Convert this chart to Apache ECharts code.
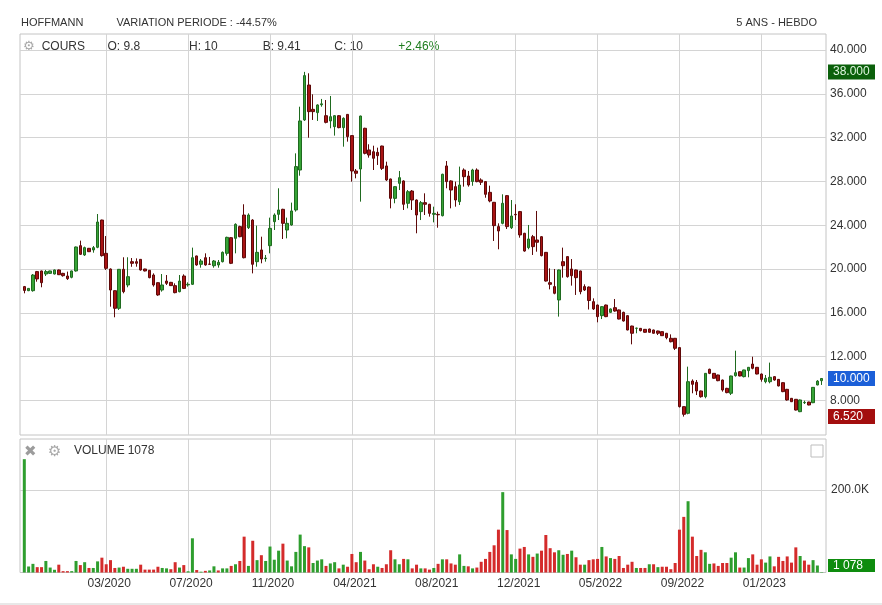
<!DOCTYPE html>
<html><head><meta charset="utf-8">
<script src="https://cdn.jsdelivr.net/npm/echarts@6/dist/echarts.min.js"></script>
<style>html,body{margin:0;padding:0;background:#fff}#c{width:882px;height:605px}</style>
</head><body><div id="c"></div>
<script>
// Weekly candles (O/H/L/C) and volumes
const opens = [
18.39,18.02,18.02,19.76,19.82,19.54,19.60,19.54,19.91,19.60,
19.36,19.24,19.82,22.13,21.28,21.89,21.74,21.98,24.47,21.43,
20.00,18.02,16.41,19.97,18.54,20.67,20.67,20.88,20.00,19.88,
19.45,18.75,18.08,18.90,18.78,18.48,17.93,19.36,18.55,18.60,
21.19,20.43,21.03,20.45,20.30,20.37,20.67,21.43,22.86,22.80,
23.87,24.93,23.77,24.47,20.67,21.74,20.95,22.13,24.32,24.99,
25.45,23.56,24.02,25.39,29.04,33.61,36.80,34.58,34.28,35.00,
34.00,33.52,33.00,34.00,32.91,34.12,32.18,28.95,29.13,32.85,
30.87,30.71,30.65,31.23,29.41,28.22,26.45,27.82,28.04,26.00,
27.12,26.30,25.24,26.06,25.91,24.99,24.99,24.87,29.41,28.04,
27.52,26.15,29.04,28.49,28.00,29.04,28.13,27.98,27.00,26.09,
23.87,24.17,26.70,23.77,24.99,25.24,23.26,21.95,22.95,22.65,
22.95,21.52,18.75,18.39,17.17,20.67,21.13,20.00,19.91,19.82,
18.39,18.35,17.02,16.71,15.74,16.71,16.04,16.47,16.26,16.04,
15.74,14.79,14.58,14.58,14.49,14.52,14.43,14.34,14.28,14.13,
13.67,13.67,12.82,7.43,6.82,9.77,9.65,8.86,8.34,10.84,
10.47,10.32,9.86,9.10,8.65,10.26,10.62,10.17,10.72,11.32,
11.02,10.41,9.71,9.71,10.17,9.92,9.62,9.01,8.19,8.10,
6.97,7.79,7.85,7.79,9.41,9.8];
const highs = [
18.45,18.25,19.54,19.82,19.85,19.91,19.85,19.95,19.95,19.65,
19.76,19.85,22.05,22.59,22.04,21.92,22.10,25.02,24.50,23.01,
20.05,18.05,20.00,21.07,21.07,21.00,20.97,20.90,20.02,19.90,
19.60,18.78,19.54,19.45,18.82,18.69,19.45,19.51,18.78,21.95,
21.22,20.91,21.43,21.10,20.82,20.82,21.60,22.95,22.90,24.17,
23.95,25.91,25.08,24.55,23.96,22.95,21.28,24.69,25.08,27.37,
25.50,24.69,26.06,30.56,34.82,38.00,37.87,35.95,35.04,35.53,
35.43,35.80,34.06,34.06,33.85,34.15,32.20,29.13,34.00,32.90,
31.39,31.26,31.08,31.26,29.80,28.25,27.55,28.95,28.10,27.21,
27.21,26.35,26.21,26.91,25.95,25.69,25.24,28.70,29.86,28.10,
27.98,29.35,29.19,28.95,29.15,29.19,28.28,28.00,27.61,26.12,
24.17,26.82,26.75,26.30,25.91,25.30,23.30,24.02,23.11,25.30,
23.00,21.55,20.06,20.00,19.95,21.95,21.15,20.91,19.95,19.85,
18.60,18.40,17.32,16.75,16.60,16.75,16.40,17.26,16.30,16.10,
15.78,14.82,14.64,14.60,14.52,14.55,14.46,14.37,14.30,14.16,
14.03,13.70,12.85,7.45,11.08,9.92,9.86,8.90,10.50,10.90,
10.50,10.35,9.90,9.15,10.26,12.54,10.65,10.80,11.05,11.99,
11.05,10.45,10.32,11.45,10.20,9.95,9.65,9.05,8.22,8.12,
8.08,7.98,7.88,9.22,9.85,10];
const lows = [
17.78,17.98,17.93,18.84,18.33,19.36,19.55,19.50,19.45,19.30,
19.00,19.15,19.76,21.28,21.19,21.55,21.49,21.90,21.13,19.91,
16.56,15.59,16.26,17.78,18.33,20.20,20.21,19.85,19.78,19.15,
18.39,17.55,17.93,18.54,18.45,17.78,17.87,18.17,18.39,18.54,
20.30,20.12,20.30,20.37,20.12,20.12,20.60,21.22,20.45,21.43,
22.90,20.97,23.65,19.60,20.21,20.52,20.67,21.43,23.56,24.47,
22.74,22.80,23.96,25.24,28.52,33.52,31.99,33.61,33.52,34.82,
33.30,32.85,32.18,32.85,31.17,31.63,27.98,28.28,26.15,30.47,
30.17,29.04,29.50,29.04,28.04,25.54,26.00,27.21,25.39,25.54,
25.39,23.26,24.47,24.93,24.78,24.26,23.77,24.80,27.37,25.54,
25.69,25.84,27.52,27.52,27.60,27.92,27.67,26.51,26.09,22.56,
21.80,24.08,23.65,23.65,24.47,22.86,21.58,21.80,21.28,21.58,
21.15,18.85,18.14,17.69,15.65,19.21,19.21,18.48,17.63,17.69,
17.99,16.30,16.26,15.13,15.43,15.60,16.00,16.10,15.40,15.20,
14.40,13.12,14.13,14.30,14.18,14.18,14.10,13.97,13.88,13.58,
13.30,12.60,7.35,6.52,6.73,8.65,8.49,8.25,8.19,10.40,
9.98,9.75,8.80,8.65,8.49,10.17,10.20,10.10,10.11,10.84,
10.38,9.71,9.56,9.56,9.80,9.28,8.75,7.98,7.85,7.08,
6.93,7.67,7.55,7.75,9.38,9.41];
const closes = [
18.04,18.23,19.45,19.09,18.75,19.76,19.82,19.91,19.48,19.39,
19.12,19.82,22.01,21.34,21.95,21.58,21.95,24.29,21.22,20.06,
18.08,16.41,19.97,17.93,19.30,20.52,20.52,19.91,19.82,19.21,
18.54,17.63,18.54,18.69,18.48,17.84,18.90,18.23,18.60,21.03,
20.37,20.73,20.37,20.43,20.73,20.61,21.52,22.89,20.52,24.08,
22.95,21.03,24.93,20.43,21.52,20.91,21.00,23.71,24.93,25.39,
24.17,24.17,25.30,29.35,33.52,37.66,34.37,34.37,34.98,35.08,
33.39,33.91,34.00,32.91,33.76,32.09,28.95,28.74,33.97,30.56,
30.41,30.11,30.35,29.19,28.13,26.45,27.52,28.34,25.91,27.06,
26.30,24.93,26.06,25.91,25.08,25.08,24.95,28.65,27.98,27.21,
26.30,27.67,28.43,27.67,29.04,27.98,27.92,26.82,26.21,23.96,
23.47,26.00,23.87,24.84,24.95,23.11,21.64,22.74,22.04,22.44,
21.22,18.90,18.60,17.78,19.91,20.30,19.30,19.39,19.21,17.93,
18.08,17.12,16.35,15.65,16.56,15.65,16.35,16.16,15.43,15.25,
14.43,14.13,14.60,14.37,14.22,14.22,14.13,14.13,13.91,13.73,
13.36,12.76,7.43,6.73,9.71,9.47,8.86,8.34,10.47,10.47,
10.02,9.80,8.95,8.71,10.23,10.53,10.23,10.78,11.02,10.93,
10.41,9.92,10.02,10.11,9.86,9.32,8.80,8.04,7.88,7.12,
8.04,7.82,7.58,9.19,9.76,10];
const volumes = [
275000,14600,21000,13000,13000,28000,12000,6600,19000,3300,
3300,3300,28000,18000,25000,11000,11000,27000,36000,20000,
30000,11000,12000,14000,9000,9000,9000,19000,7000,7000,
7000,14000,11000,10000,8000,25000,12000,18000,3000,83000,
6000,2000,4000,5000,15000,5000,10000,10000,16000,20000,
28000,87000,16000,77000,30000,42000,28000,63000,31000,53000,
70000,29000,15000,50000,92000,64000,61000,23000,29000,32000,
16000,22000,25000,10000,19000,14000,45000,25000,50000,29000,
8000,20000,14000,11000,20000,54000,32000,20000,33000,32000,
10000,19000,10000,10000,7000,11000,21000,32000,32000,22000,
19000,44000,16000,15000,10000,12000,26000,33000,50000,66000,
104000,195000,103000,44000,33000,58000,62000,44000,38000,46000,
53000,91000,59000,49000,54000,43000,45000,53000,37000,19000,
19000,30000,32000,33000,62000,39000,35000,33000,40000,11000,
19000,26000,11000,11000,11000,20000,20000,13000,14000,14000,
8000,23000,104000,135000,173000,87000,40000,55000,49000,21000,
22000,16000,23000,23000,36000,49000,12000,12000,35000,44000,
19000,32000,24000,39000,15000,38000,28000,39000,24000,61000,
40000,29000,19000,30000,17000,1078];

// x-axis tick positions (bar index) and their labels
const tickBars = [19, 38, 57, 76, 95, 114, 133, 152, 171];
const tickLabels = ['03/2020','07/2020','11/2020','04/2021','08/2021','12/2021','05/2022','09/2022','01/2023'];
const priceTicks = [8, 12, 16, 20, 24, 28, 32, 36, 40];
const volumeTicks = [200000];

const n = closes.length;
const categories = [''];
const t0 = Date.UTC(2019, 10, 18);
for (let i = 0; i < n; i++) categories.push(new Date(t0 + i * 7 * 864e5).toISOString().slice(0, 10));
categories.push('');
const tickMap = {};
tickBars.forEach((b, k) => { tickMap[b + 1] = tickLabels[k]; });

const candleData = closes.map((c, i) => [i + 1, opens[i], c, lows[i], highs[i]]);
const volData = volumes.map((v, i) => [i + 1, v]);
const volUp = closes.map((c, i) => i === 0 ? true : c >= closes[i - 1]);

const last = n - 1;
const maxHigh = Math.max.apply(null, highs);
const minLow = Math.min.apply(null, lows);
const lastClose = closes[last];
const chgPct = (closes[last] / closes[last - 1] - 1) * 100;
const periodPct = (closes[last] / closes[0] - 1) * 100;
const fmtSpace = v => String(v).replace(/\B(?=(\d{3})+(?!\d))/g, ' ');

const FONT = '"Liberation Sans", Arial, sans-serif';
const GRID_C = '#d4d4d4';
const TXT = '#333';

const chart = echarts.init(document.getElementById('c'), null, {renderer: 'canvas'});
const txt = (x, y, s, size, fill, extra) => Object.assign({
  type: 'text', x: x, y: y, silent: true,
  style: {text: s, fill: fill || TXT, font: (size || 12) + 'px ' + FONT, verticalAlign: 'middle', align: 'left'}
}, extra || {});

const markerLabel = (bg, fg) => ({
  show: true, position: 'end', distance: 2, fontSize: 12, fontFamily: FONT,
  padding: [2, 5, 1, 5], width: 37, align: 'left', opacity: 1,
  backgroundColor: bg, color: fg
});
const hiddenLine = {color: 'rgba(0,0,0,0)', width: 0, type: 'solid'};

chart.setOption({
  animation: false,
  backgroundColor: '#fff',
  textStyle: {fontFamily: FONT},
  grid: [
    {left: 20, right: 56, top: 34, height: 401, show: true, borderColor: '#c4c4c4', borderWidth: 1, backgroundColor: '#fff'},
    {left: 20, right: 56, top: 439, height: 133.5, show: true, borderColor: '#c4c4c4', borderWidth: 1, backgroundColor: '#fff'}
  ],
  xAxis: [
    {type: 'category', gridIndex: 0, data: categories, boundaryGap: false,
     axisLine: {show: false}, axisTick: {show: false}, axisLabel: {show: false},
     splitLine: {show: true, interval: (i) => tickMap[i] !== undefined, lineStyle: {color: GRID_C, width: 1}}},
    {type: 'category', gridIndex: 1, data: categories, boundaryGap: false,
     axisLine: {show: false}, axisTick: {show: false},
     axisLabel: {show: true, interval: (i) => tickMap[i] !== undefined, formatter: (v, i) => tickMap[i] || '',
                 color: TXT, fontSize: 12, margin: 5, padding: [0, 0, 0, 6]},
     splitLine: {show: true, interval: (i) => tickMap[i] !== undefined, lineStyle: {color: GRID_C, width: 1}}}
  ],
  yAxis: [
    {type: 'value', gridIndex: 0, position: 'right', min: 4.84, max: 41.46,
     axisLine: {show: false}, axisTick: {show: false, customValues: priceTicks},
     axisLabel: {customValues: priceTicks, formatter: v => v.toFixed(3), color: TXT, fontSize: 12, margin: 4},
     splitLine: {show: true, lineStyle: {color: GRID_C, width: 1}}},
    {type: 'value', gridIndex: 1, position: 'right', min: 0, max: 324000,
     axisLine: {show: false}, axisTick: {show: false, customValues: volumeTicks},
     axisLabel: {customValues: volumeTicks, formatter: v => (v / 1000).toFixed(1) + 'K', color: TXT, fontSize: 12, margin: 5},
     splitLine: {show: true, lineStyle: {color: GRID_C, width: 1}}}
  ],
  series: [
    {type: 'candlestick', name: 'COURS', xAxisIndex: 0, yAxisIndex: 0, data: candleData,
     encode: {x: 0, y: [1, 2, 3, 4]}, barWidth: 3, clip: false,
     itemStyle: {color: '#36a336', color0: '#a81313', borderColor: '#1f6a1f', borderColor0: '#5e0909', borderWidth: 1},
     markLine: {silent: true, symbol: ['none', 'none'], animation: false, lineStyle: hiddenLine,
       emphasis: {disabled: true},
       data: [
         {yAxis: maxHigh, label: Object.assign(markerLabel('#0b600b', '#dff5df'), {formatter: maxHigh.toFixed(3)})},
         {yAxis: lastClose, label: Object.assign(markerLabel('#1b5fd8', '#ffffff'), {formatter: lastClose.toFixed(3)})},
         {yAxis: minLow, label: Object.assign(markerLabel('#a30e0e', '#ffffff'), {formatter: minLow.toFixed(3)})}
       ]}},
    {type: 'bar', name: 'VOLUME', xAxisIndex: 1, yAxisIndex: 1, data: volData,
     encode: {x: 0, y: 1}, barWidth: 3, clip: false,
     itemStyle: {color: (p) => volUp[p.dataIndex] ? '#2e9e2e' : '#d42b2b'},
     markLine: {silent: true, symbol: ['none', 'none'], animation: false, lineStyle: hiddenLine,
       emphasis: {disabled: true},
       data: [
         {yAxis: volumes[last], label: Object.assign(markerLabel('#0e8c0e', '#ffffff'), {formatter: fmtSpace(volumes[last]), verticalAlign: 'bottom', padding: [1, 5, 0, 5]})}
       ]}}
  ],
  graphic: [
    txt(21, 23, 'HOFFMANN', 11),
    txt(116.5, 23, 'VARIATION PERIODE : ' + periodPct.toFixed(2) + '%', 11),
    txt(817, 23, '5 ANS - HEBDO', 11, TXT, {style: {text: '5 ANS - HEBDO', fill: TXT, font: '11px ' + FONT, verticalAlign: 'middle', align: 'right'}}),
    txt(23, 47, '\u2699', 13, '#a8a8a8', {style: {text: '\u2699', fill: '#a8a8a8', font: '13px "DejaVu Sans"', verticalAlign: 'middle', align: 'left'}}),
    txt(41.7, 47, 'COURS', 12),
    txt(107.5, 47, 'O: ' + opens[last], 12),
    txt(189, 47, 'H: ' + highs[last], 12),
    txt(262.7, 47, 'B: ' + lows[last], 12),
    txt(334.3, 47, 'C: ' + closes[last], 12),
    txt(398.3, 47, (chgPct >= 0 ? '+' : '') + chgPct.toFixed(2) + '%', 12, '#1e7d1e'),
    txt(24, 452, '\u2716', 15, '#9c9c9c', {style: {text: '\u2716', fill: '#9c9c9c', font: '15px "DejaVu Sans"', verticalAlign: 'middle', align: 'left'}}),
    txt(48, 452, '\u2699', 15, '#a8a8a8', {style: {text: '\u2699', fill: '#a8a8a8', font: '15px "DejaVu Sans"', verticalAlign: 'middle', align: 'left'}}),
    txt(74, 451, 'VOLUME', 12),
    txt(127.7, 451, String(volumes[last]), 12),
    {type: 'rect', silent: true, shape: {x: 811, y: 445, width: 12, height: 12}, style: {fill: '#fff', stroke: '#bdbdbd', lineWidth: 1}},
    {type: 'rect', silent: true, shape: {x: 0, y: 603, width: 882, height: 2}, style: {fill: '#e8e8e8'}}
  ]
});
</script></body></html>
